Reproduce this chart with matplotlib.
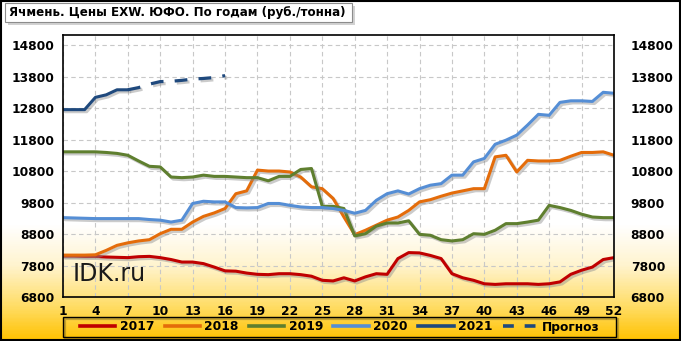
import numpy as np
import matplotlib
matplotlib.use("Agg")
import matplotlib.pyplot as plt
import matplotlib.patheffects as pe
from matplotlib.patches import Rectangle
from matplotlib.lines import Line2D
from matplotlib.colors import LinearSegmentedColormap

weeks = list(range(1, 53))

y2017 = [8100, 8100, 8090, 8090, 8070, 8060, 8050, 8080, 8090, 8050,
         7990, 7910, 7910, 7860, 7750, 7630, 7620, 7560, 7520, 7510,
         7540, 7540, 7510, 7460, 7330, 7310, 7410, 7310, 7440, 7540,
         7520, 8020, 8210, 8200, 8120, 8020, 7540, 7410, 7330, 7220,
         7200, 7220, 7220, 7220, 7200, 7220, 7280, 7520, 7650, 7750,
         7990, 8050]
y2018 = [8130, 8130, 8130, 8140, 8280, 8440, 8520, 8580, 8620, 8810,
         8950, 8950, 9180, 9360, 9470, 9610, 10080, 10170, 10830, 10800,
         10800, 10770, 10610, 10300, 10240, 9930, 9340, 8780, 8920, 9080,
         9240, 9340, 9550, 9820, 9890, 10000, 10100, 10170, 10240, 10240,
         11250, 11300, 10770, 11140, 11120, 11120, 11140, 11270, 11390, 11390,
         11410, 11300]
y2019 = [11410, 11410, 11410, 11410, 11390, 11360, 11300, 11120, 10950, 10930,
         10610, 10590, 10610, 10670, 10630, 10630, 10610, 10590, 10590, 10490,
         10630, 10630, 10850, 10880, 9680, 9680, 9610, 8740, 8810, 9050,
         9150, 9150, 9220, 8790, 8760, 8620, 8580, 8620, 8810, 8790,
         8920, 9130, 9130, 9180, 9240, 9710, 9640, 9550, 9430, 9340,
         9320, 9320]
y2020 = [9320, 9310, 9300, 9290, 9290, 9290, 9290, 9290, 9260, 9240,
         9180, 9240, 9770, 9840, 9820, 9820, 9640, 9630, 9640, 9770,
         9770, 9710, 9660, 9640, 9640, 9610, 9550, 9460, 9550, 9870,
         10080, 10170, 10070, 10240, 10350, 10400, 10670, 10670, 11090, 11200,
         11650, 11780, 11940, 12260, 12600, 12570, 12980, 13030, 13030, 13010,
         13300, 13270]
weeks2021 = [1, 2, 3, 4, 5, 6, 7]
y2021 = [12750, 12750, 12750, 13140, 13220, 13380, 13380]
weeks_fc = [7, 8, 9, 10, 11, 12, 13, 14, 15, 16]
y_fc = [13380, 13450, 13560, 13640, 13650, 13680, 13720, 13740, 13770, 13830]

series = [
    ("2017", weeks, y2017, "#C00000"),
    ("2018", weeks, y2018, "#E46C0A"),
    ("2019", weeks, y2019, "#5F7F2F"),
    ("2020", weeks, y2020, "#558ED5"),
    ("2021", weeks2021, y2021, "#1F497D"),
]
fc_color = "#1F497D"
yticks = [6800, 7800, 8800, 9800, 10800, 11800, 12800, 13800, 14800]
xticks = list(range(1, 53, 3))

W, H = 681, 341
fig = plt.figure(figsize=(W / 100, H / 100), dpi=100)

# background gradient
bg = fig.add_axes([0, 0, 1, 1], zorder=-10)
cmap = LinearSegmentedColormap.from_list(
    "g", [(0, "#FFFFFF"), (0.66, "#FFFFFF"), (0.78, "#FFF4CF"), (0.9, "#FFDD66"), (1.0, "#FFC200")])
grad = np.linspace(0, 1, 341).reshape(-1, 1)
bg.imshow(grad, aspect="auto", cmap=cmap, extent=[0, 1, 1, 0])
bg.set_xlim(0, 1); bg.set_ylim(1, 0)
bg.axis("off")

ax = fig.add_axes([63 / W, 1 - 297 / H, (614 - 63) / W, (297 - 35) / H])
ax.patch.set_alpha(0)
ax.set_xlim(1, 52)
ax.set_ylim(6800, 15120)
ax.set_xticks(xticks)
ax.set_yticks(yticks)
ax.grid(True, color="#C8C8C8", linestyle=(0, (4, 3)), linewidth=0.8)
ax.tick_params(length=0, labelsize=8.8, pad=6)
for lab in ax.get_xticklabels() + ax.get_yticklabels():
    lab.set_fontweight("bold")
for s in ax.spines.values():
    s.set_color("black")
    s.set_linewidth(1.2)

shadow = [pe.SimpleLineShadow(offset=(1.5, -1.5), shadow_color="#8C8C8C", alpha=0.45), pe.Normal()]
handles = []
for name, xs, ys, c in series:
    ax.plot(xs, ys, color=c, lw=2.2, solid_capstyle="round", solid_joinstyle="round",
            path_effects=shadow)
    handles.append(Line2D([], [], color=c, lw=2.6, label=name))
ax.plot(weeks_fc, y_fc, color=fc_color, lw=2.3, linestyle=(0, (4, 3.5)), path_effects=shadow)
handles.append(Line2D([], [], color=fc_color, lw=2.6, linestyle=(0, (3, 3)), label="Прогноз"))

ax2 = ax.twinx()
ax2.set_ylim(ax.get_ylim())
ax2.set_yticks(yticks)
ax2.tick_params(length=0, labelsize=8.8, pad=12)
for lab in ax2.get_yticklabels():
    lab.set_fontweight("bold")
for s in ax2.spines.values():
    s.set_visible(False)

ax.text(1.85, 7530, "IDK.ru", fontsize=17, color="#1a1a1a", va="center", ha="left")

# legend frame (with thin shadow) and legend contents
fig.patches.append(Rectangle((65 / W, 1 - 339 / H), (616 - 63) / W, 20 / H, transform=fig.transFigure,
                             facecolor="none", edgecolor="#7F6A20", lw=1.6, alpha=0.45, zorder=1))
fig.patches.append(Rectangle((63 / W, 1 - 337 / H), (616 - 63) / W, 20 / H, transform=fig.transFigure,
                             facecolor="none", edgecolor="black", lw=1.0, zorder=2))
leg = fig.legend(handles=handles, loc="center",
                 bbox_to_anchor=(80 / W, 1 - 337 / H, (600 - 80) / W, 20 / H),
                 bbox_transform=fig.transFigure,
                 ncol=6, frameon=False, mode="expand",
                 prop={"weight": "bold", "size": 8.8}, handlelength=2.9,
                 borderpad=0.0, handletextpad=0.35, borderaxespad=0)

# title box
fig.patches.append(Rectangle((8 / W, 1 - 25 / H), 347 / W, 19 / H, transform=fig.transFigure,
                             facecolor="#A6A6A6", edgecolor="none", zorder=1, alpha=0.5))
fig.patches.append(Rectangle((5 / W, 1 - 22 / H), 347 / W, 19 / H, transform=fig.transFigure,
                             facecolor="white", edgecolor="#8C8C8C", lw=0.8, zorder=2))
fig.text(9 / W, 1 - 12.5 / H, "Ячмень. Цены EXW. ЮФО. По годам (руб./тонна)",
         fontsize=8.6, fontweight="bold", va="center", ha="left", zorder=3)

fig.patches.append(Rectangle((0.001, 0.002), 0.997, 0.995, transform=fig.transFigure,
                             facecolor="none", edgecolor="black", lw=1.5, zorder=5))

fig.savefig("out.png", dpi=100)
